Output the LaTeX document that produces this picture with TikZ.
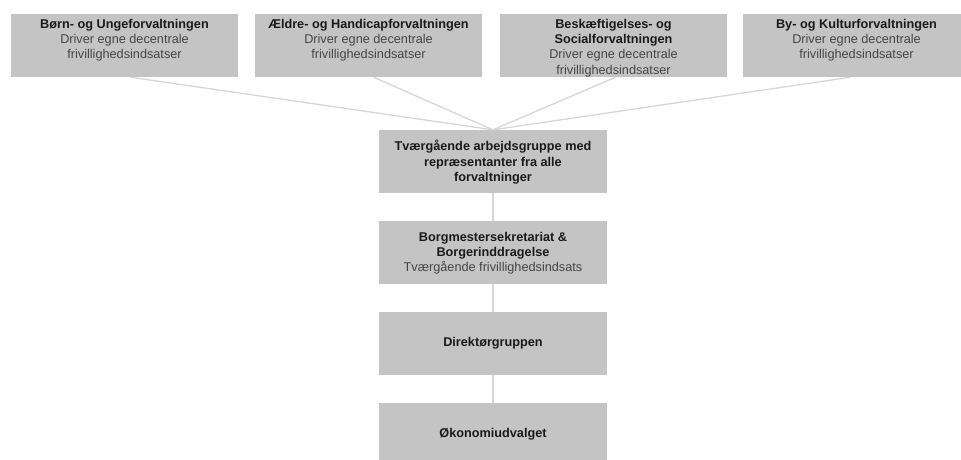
\documentclass[tikz,border=0pt]{standalone}
\usepackage{fontspec}
\setmainfont{Liberation Sans}
\definecolor{boxgray}{HTML}{C4C4C4}
\definecolor{linegray}{HTML}{D6D6D6}
\definecolor{titlecol}{HTML}{1A1A1A}
\definecolor{subcol}{HTML}{454545}
\begin{document}
\begin{tikzpicture}[x=1pt,y=-1pt,
  box/.style={fill=boxgray, draw=none, minimum width=227pt, minimum height=63pt, inner sep=0pt},
  conn/.style={draw=linegray, line width=1.3pt},
  txt/.style={align=center, inner sep=0pt, text=titlecol, font=\fontsize{12.7}{15.2}\selectfont},
  sub/.style={text=subcol}
]
\useasboundingbox (0,0) rectangle (961,459);
\clip (0,0) rectangle (961,459);
% top row boxes
\node[box] (b1) at (124.5,45.5) {};
\node[box] (b2) at (368.5,45.5) {};
\node[box] (b3) at (613.5,45.5) {};
\node[box] (b4) at (856.5,45.5) {};
% centre column boxes
\node[box, minimum width=228pt] (a) at (493,161.5) {};
\node[box, minimum width=228pt] (b) at (493,252.5) {};
\node[box, minimum width=228pt] (c) at (493,343.5) {};
\node[box, minimum width=228pt] (d) at (493,434.5) {};
% connectors
\draw[conn] ([xshift=6pt]b1.south) -- (a.north);
\draw[conn] ([xshift=5pt]b2.south) -- (a.north);
\draw[conn] ([xshift=2pt]b3.south) -- (a.north);
\draw[conn] ([xshift=-6pt]b4.south) -- (a.north);
\draw[conn] (a.south) -- (b.north);
\draw[conn] (b.south) -- (c.north);
\draw[conn] (c.south) -- (d.north);
% texts of top row
\node[txt, anchor=north] (b1t) at ([yshift=-5.3pt]b1.north)
  {\textbf{Børn- og Ungeforvaltningen}\\{\color{subcol}Driver egne decentrale}\\{\color{subcol}frivillighedsindsatser}};
\node[txt, anchor=north] (b2t) at ([yshift=-5.3pt]b2.north)
  {\textbf{Ældre- og Handicapforvaltningen}\\{\color{subcol}Driver egne decentrale}\\{\color{subcol}frivillighedsindsatser}};
\node[txt, anchor=north] (b3t) at ([yshift=-5.3pt]b3.north)
  {\textbf{Beskæftigelses- og}\\\textbf{Socialforvaltningen}\\{\color{subcol}Driver egne decentrale}\\{\color{subcol}frivillighedsindsatser}};
\node[txt, anchor=north] (b4t) at ([yshift=-5.3pt]b4.north)
  {\textbf{By- og Kulturforvaltningen}\\{\color{subcol}Driver egne decentrale}\\{\color{subcol}frivillighedsindsatser}};
% texts of centre column
\node[txt] (at) at ([yshift=-0.8pt]a.center) {\textbf{Tværgående arbejdsgruppe med}\\\textbf{repræsentanter fra alle}\\\textbf{forvaltninger}};
\node[txt] (bt) at ([yshift=-0.5pt]b.center) {\textbf{Borgmestersekretariat \&}\\\textbf{Borgerinddragelse}\\{\color{subcol}Tværgående frivillighedsindsats}};
\node[txt] (ct) at (c.center) {\textbf{Direktørgruppen}};
\node[txt] (dt) at (d.center) {\textbf{Økonomiudvalget}};
\end{tikzpicture}
\end{document}
